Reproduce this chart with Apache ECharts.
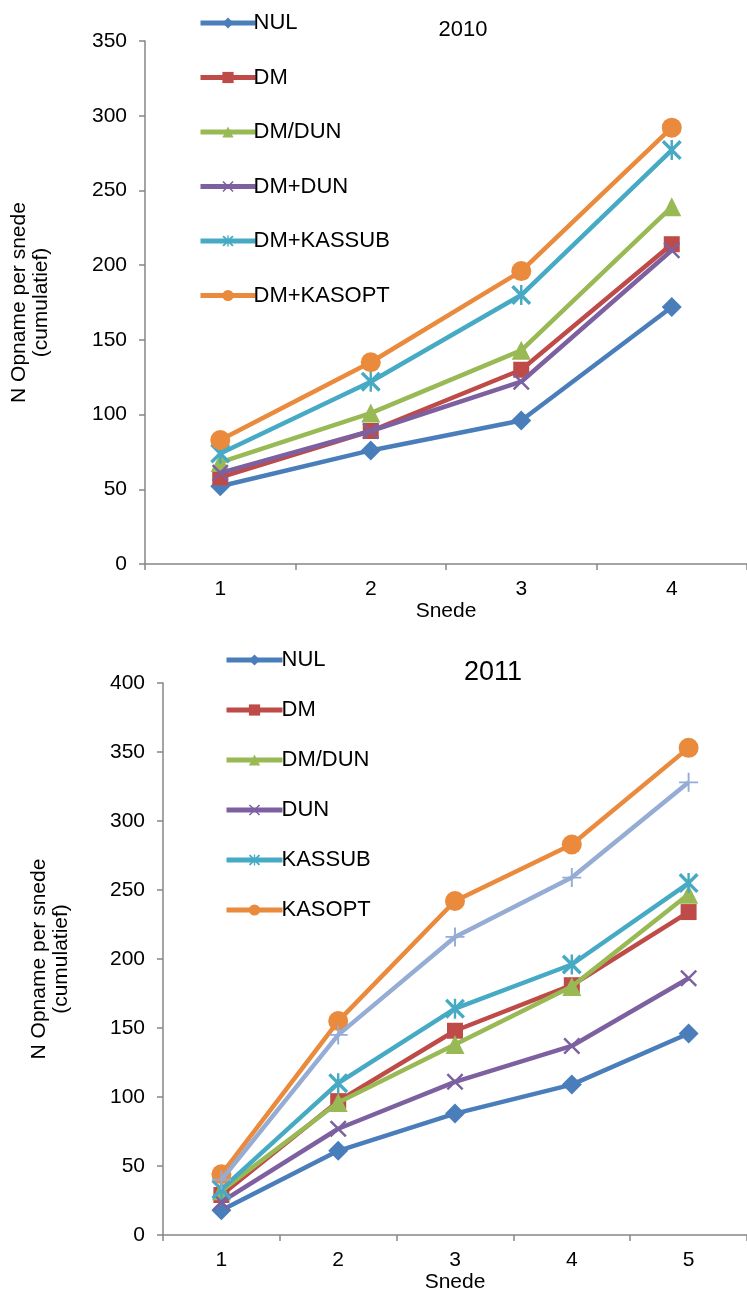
<!DOCTYPE html>
<html>
<head>
<meta charset="utf-8">
<script src="https://cdn.jsdelivr.net/npm/echarts@6/dist/echarts.min.js"></script>
<style>
html,body{margin:0;padding:0;background:#fff;}
#c{width:747px;height:1294px;}
</style>
</head>
<body>
<div id="c"></div>
<script>
// ---- Data: 2010 ----
const cats2010 = ['1', '2', '3', '4'];
const names2010 = ['NUL', 'DM', 'DM/DUN', 'DM+DUN', 'DM+KASSUB', 'DM+KASOPT'];
const nul2010 = [52, 76, 96, 172];
const dm2010 = [58, 89, 130, 214];
const dmdun2010 = [68, 101, 143, 239];
const dmplusdun2010 = [61, 89, 122, 210];
const kassub2010 = [74, 122, 180, 277];
const kasopt2010 = [83, 135, 196, 292];
const yTicks2010 = [0, 50, 100, 150, 200, 250, 300, 350];

// ---- Data: 2011 ----
const cats2011 = ['1', '2', '3', '4', '5'];
const names2011 = ['NUL', 'DM', 'DM/DUN', 'DUN', 'KASSUB', 'KASOPT'];
const nul2011 = [18, 61, 88, 109, 146];
const dm2011 = [29, 97, 148, 181, 234];
const dmdun2011 = [32, 96, 138, 180, 247];
const dun2011 = [24, 77, 111, 137, 186];
const kassub2011 = [33, 110, 164, 196, 255];
const kasopt2011 = [44, 155, 242, 283, 353];
const extra2011 = [40, 145, 216, 259, 328];
const yTicks2011 = [0, 50, 100, 150, 200, 250, 300, 350, 400];

const FONT = 'Liberation Sans';
const colors = ['#4a7ebb', '#be4b48', '#98b954', '#7d60a0', '#46aac5', '#e98a3c', '#95acd5'];
const X_SYM = 'path://M0,1 L1,0 L10,9 L9,10 Z M9,0 L10,1 L1,10 L0,9 Z';
const STAR_SYM = 'path://M0,1.2 L1.2,0 L10,8.8 L8.8,10 Z M8.8,0 L10,1.2 L1.2,10 L0,8.8 Z M4.4,0 L5.6,0 L5.6,10 L4.4,10 Z';
const PLUS_SYM = 'path://M4.5,0 L5.5,0 L5.5,10 L4.5,10 Z M0,4.5 L10,4.5 L10,5.5 L0,5.5 Z';
const symbols = ['diamond', 'rect', 'triangle', X_SYM, STAR_SYM, 'circle', PLUS_SYM];
const sizes = [20, 16, 19, 17, 20, 20, 19];

function mk(name, data, idx, axisIdx) {
  return {
    name: name,
    type: 'line',
    xAxisIndex: axisIdx,
    yAxisIndex: axisIdx,
    data: data,
    symbol: symbols[idx],
    symbolSize: sizes[idx],
    showAllSymbol: true,
    color: colors[idx],
    lineStyle: { width: 4.5, color: colors[idx] },
    itemStyle: { color: colors[idx] },
    emphasis: { disabled: true },
    animation: false,
    z: 2 + idx
  };
}

const axisLineStyle = { color: '#868686', width: 1.5 };

const series = [
  mk(names2010[0], nul2010, 0, 0),
  mk(names2010[1], dm2010, 1, 0),
  mk(names2010[2], dmdun2010, 2, 0),
  mk(names2010[3], dmplusdun2010, 3, 0),
  mk(names2010[4], kassub2010, 4, 0),
  mk(names2010[5], kasopt2010, 5, 0),
  mk(names2011[0], nul2011, 0, 1),
  mk(names2011[1], dm2011, 1, 1),
  mk(names2011[2], dmdun2011, 2, 1),
  mk(names2011[3], dun2011, 3, 1),
  mk(names2011[4], kassub2011, 4, 1),
  mk(names2011[5], kasopt2011, 5, 1),
  mk('Serie 7', extra2011, 6, 1)
];

function yAxis(gridIdx, ticks, gap) {
  return {
    type: 'value',
    gridIndex: gridIdx,
    min: ticks[0],
    max: ticks[ticks.length - 1],
    interval: ticks[1] - ticks[0],
    name: 'N Opname per snede\n(cumulatief)',
    nameLocation: 'middle',
    nameGap: gap,
    nameTextStyle: { fontFamily: FONT, fontSize: 21, color: '#000', lineHeight: 22 },
    axisLine: { show: true, lineStyle: axisLineStyle },
    axisTick: { show: true, length: 6, lineStyle: axisLineStyle },
    splitLine: { show: false },
    axisLabel: { fontFamily: FONT, fontSize: 21, color: '#000', margin: 18 }
  };
}
function xAxis(gridIdx, cats) {
  return {
    type: 'category',
    gridIndex: gridIdx,
    data: cats,
    boundaryGap: true,
    name: 'Snede',
    nameLocation: 'middle',
    nameGap: 36,
    nameTextStyle: { fontFamily: FONT, fontSize: 21, color: '#000' },
    axisLine: { show: true, lineStyle: axisLineStyle },
    axisTick: { show: true, length: 6, alignWithLabel: false, lineStyle: axisLineStyle },
    splitLine: { show: false },
    axisLabel: { fontFamily: FONT, fontSize: 21, color: '#000', margin: 15 }
  };
}

const option = {
  backgroundColor: '#fff',
  animation: false,
  title: [
    { text: '2010', left: 458, top: 25, textAlign: 'center', textVerticalAlign: 'middle',
      textStyle: { fontFamily: FONT, fontSize: 22, fontWeight: 'normal', color: '#000' } },
    { text: '2011', left: 488, top: 668, textAlign: 'center', textVerticalAlign: 'middle',
      textStyle: { fontFamily: FONT, fontSize: 27, fontWeight: 'normal', color: '#000' } }
  ],
  legend: [
    { data: names2010, orient: 'vertical', left: 193, top: 7, itemWidth: 55, itemHeight: 14,
      itemGap: 32.5, selectedMode: false, lineStyle: { width: 5 },
      textStyle: { fontFamily: FONT, fontSize: 22, color: '#000', lineHeight: 22, padding: [0, 0, 0, -7] } },
    { data: names2011, orient: 'vertical', left: 219, top: 644, itemWidth: 56, itemHeight: 14,
      itemGap: 28, selectedMode: false, lineStyle: { width: 5 },
      textStyle: { fontFamily: FONT, fontSize: 22, color: '#000', lineHeight: 22, padding: [0, 0, 0, -6] } }
  ],
  grid: [
    { left: 145, top: 41, width: 604, height: 523 },
    { left: 163, top: 683, width: 588, height: 552 }
  ],
  xAxis: [xAxis(0, cats2010), xAxis(1, cats2011)],
  yAxis: [yAxis(0, yTicks2010, 93), yAxis(1, yTicks2011, 91)],
  series: series
};

const chart = echarts.init(document.getElementById('c'), null, { renderer: 'canvas' });
chart.setOption(option);
</script>
</body>
</html>
